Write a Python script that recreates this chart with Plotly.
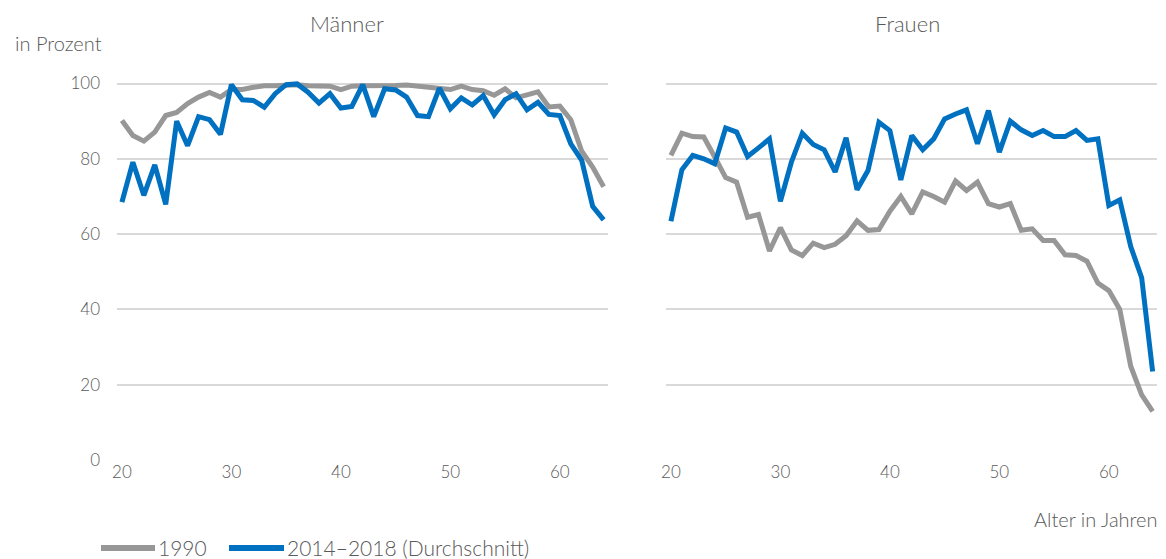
import plotly.graph_objects as go
from plotly.subplots import make_subplots

# Alter 20..64
alter = list(range(20, 65))

maenner_1990 = [90.2, 86.2, 84.7, 87.1, 91.5, 92.3, 94.7, 96.4, 97.6, 96.4,
                98.4, 98.4, 99.0, 99.4, 99.4, 99.7, 99.7, 99.4, 99.4, 99.3,
                98.4, 99.3, 99.4, 99.4, 99.2, 99.5, 99.6, 99.3, 98.9, 98.7,
                98.4, 99.3, 98.4, 98.1, 96.9, 98.6, 96.2, 97.0, 97.8, 93.8,
                94.0, 90.4, 82.0, 77.8, 72.6]
maenner_2014_18 = [68.5, 79.1, 70.3, 78.4, 67.9, 90.0, 83.5, 91.2, 90.4, 86.5,
                   99.7, 95.7, 95.5, 93.7, 97.3, 99.7, 99.9, 97.7, 94.8, 97.3,
                   93.5, 93.9, 99.7, 91.2, 98.6, 98.3, 96.4, 91.5, 91.2, 98.8,
                   93.3, 96.2, 94.3, 96.8, 91.7, 95.7, 97.3, 93.0, 95.0, 91.8,
                   91.5, 84.0, 79.6, 67.4, 63.8]
frauen_1990 = [80.9, 86.8, 85.9, 85.8, 80.5, 75.0, 73.8, 64.5, 65.2, 55.5,
               61.7, 55.8, 54.3, 57.6, 56.4, 57.3, 59.6, 63.5, 61.0, 61.2,
               66.1, 70.0, 65.4, 71.2, 70.0, 68.5, 74.1, 71.6, 73.8, 68.1,
               67.2, 68.1, 61.0, 61.4, 58.3, 58.3, 54.5, 54.3, 52.8, 47.0,
               45.0, 40.0, 24.9, 17.3, 12.9]
frauen_2014_18 = [63.4, 77.1, 80.9, 80.0, 78.7, 88.2, 87.1, 80.6, 82.9, 85.3,
                  68.7, 79.1, 86.8, 83.8, 82.4, 76.5, 85.6, 71.8, 76.9, 89.7,
                  87.5, 74.4, 86.2, 82.4, 85.3, 90.6, 91.9, 93.0, 84.0, 92.8,
                  81.8, 90.0, 87.7, 86.2, 87.5, 85.9, 85.9, 87.5, 84.9, 85.3,
                  67.6, 69.1, 56.7, 48.4, 23.5]

y_ticks = [0, 20, 40, 60, 80, 100]
x_ticks = [20, 30, 40, 50, 60]

GRAU = '#979797'
BLAU = '#0070C0'
TEXT = '#595959'
FONT = 'Lato'

W, H = 1166, 559
L, R, T, B = 117, 9, 76, 99
PW = W - L - R
PH = H - T - B


def px_x(px):
    return (px - L) / PW


def px_y(py):
    return (H - B - py) / PH


fig = make_subplots(rows=1, cols=2, horizontal_spacing=58 / PW)

for col, (a, b) in enumerate([(maenner_1990, maenner_2014_18),
                              (frauen_1990, frauen_2014_18)], start=1):
    fig.add_trace(go.Scatter(x=alter, y=a, mode='lines', name='1990',
                             line=dict(color=GRAU, width=5), showlegend=False),
                  row=1, col=col)
    fig.add_trace(go.Scatter(x=alter, y=b, mode='lines', name='2014–2018 (Durchschnitt)',
                             line=dict(color=BLAU, width=5), showlegend=False),
                  row=1, col=col)

fig.update_xaxes(range=[19.55, 64.4], tickvals=x_ticks, showgrid=False, zeroline=False,
                 showline=False, ticks='', tickfont=dict(size=17, color=TEXT, weight=300))
fig.update_yaxes(range=[0, 102], tickvals=y_ticks, showgrid=True, gridcolor='#D9D9D9',
                 gridwidth=1.5, zeroline=False, showline=False, ticks='',
                 tickfont=dict(size=17, color=TEXT, weight=300), ticklabelstandoff=16)
fig.update_yaxes(showticklabels=False, row=1, col=2)

for text, cx in [('Männer', 347), ('Frauen', 907)]:
    fig.add_annotation(text=text, x=px_x(cx), y=px_y(24), xref='paper', yref='paper',
                       showarrow=False, xanchor='center', yanchor='middle',
                       font=dict(size=22, color=TEXT, weight=300))

fig.add_annotation(text='in Prozent', x=px_x(104), y=px_y(43), xref='paper', yref='paper',
                   showarrow=False, xanchor='right', yanchor='middle',
                   font=dict(size=20, color=TEXT, weight=300))
fig.add_annotation(text='Alter in Jahren', x=px_x(1160), y=px_y(519), xref='paper',
                   yref='paper', showarrow=False, xanchor='right', yanchor='middle',
                   font=dict(size=20, color=TEXT, weight=300))

# Legende unten
legende = [('1990', GRAU, 101, 155), ('2014–2018 (Durchschnitt)', BLAU, 229, 284)]
for name, farbe, x0, x1 in legende:
    fig.add_shape(type='line', xref='paper', yref='paper', x0=px_x(x0), x1=px_x(x1),
                  y0=px_y(548), y1=px_y(548), line=dict(color=farbe, width=6))
    fig.add_annotation(text=name, x=px_x(x1 + 1), y=px_y(547), xref='paper', yref='paper',
                       showarrow=False, xanchor='left', yanchor='middle',
                       font=dict(size=21, color=TEXT, weight=300))

fig.update_layout(width=W, height=H, margin=dict(l=L, r=R, t=T, b=B),
                  plot_bgcolor='white', paper_bgcolor='white',
                  font=dict(family=FONT, color=TEXT))

fig.write_html('out.html', config={'displayModeBar': False},
               post_script="document.body.style.margin='0';")
